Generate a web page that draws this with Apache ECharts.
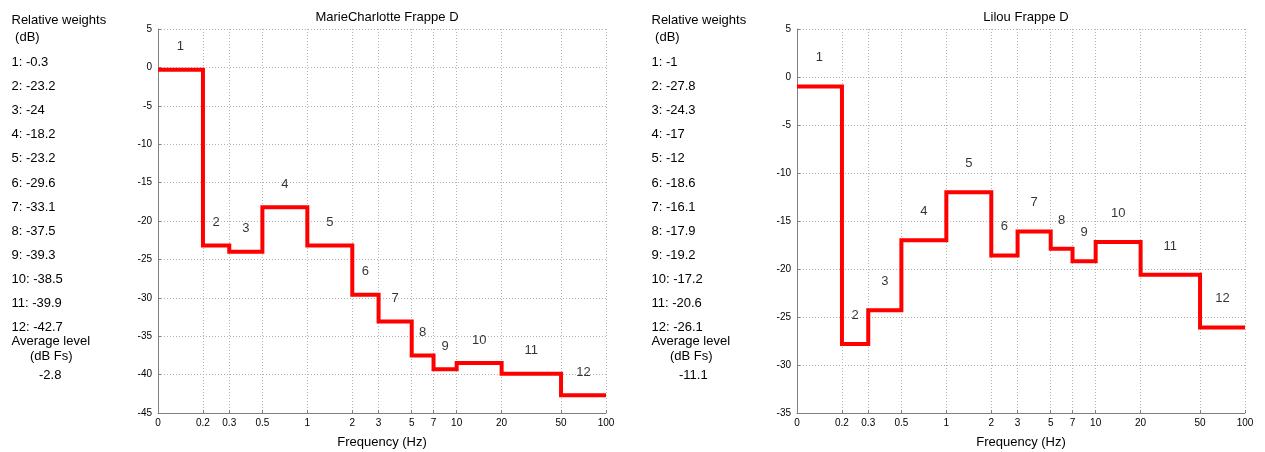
<!DOCTYPE html>
<html>
<head>
<meta charset="utf-8">
<script src="https://cdn.jsdelivr.net/npm/echarts@6/dist/echarts.min.js"></script>
<style>
  html, body { margin: 0; padding: 0; background: #fff; }
  #chart { width: 1265px; height: 452px; }
</style>
</head>
<body>
<div id="chart"></div>
<script>
// Frequency band edges (Hz); band i spans bandEdges[i]..bandEdges[i+1]
const bandEdges = [0.1, 0.2, 0.3, 0.5, 1, 2, 3, 5, 7, 10, 20, 50, 100];
const bandNames = ['1', '2', '3', '4', '5', '6', '7', '8', '9', '10', '11', '12'];

// Frequency axis ticks and their printed labels (lowest edge printed as 0)
const freqTicks = [0.1, 0.2, 0.3, 0.5, 1, 2, 3, 5, 7, 10, 20, 50, 100];
const freqTickLabels = ['0', '0.2', '0.3', '0.5', '1', '2', '3', '5', '7', '10', '20', '50', '100'];

// Panel titles
const titleMarie = 'MarieCharlotte Frappe D';
const titleLilou = 'Lilou Frappe D';

// Relative weights per band (dB)
const weightsMarie = [-0.3, -23.2, -24, -18.2, -23.2, -29.6, -33.1, -37.5, -39.3, -38.5, -39.9, -42.7];
const weightsLilou = [-1, -27.8, -24.3, -17, -12, -18.6, -16.1, -17.9, -19.2, -17.2, -20.6, -26.1];

// Average level (dB Fs)
const avgMarie = -2.8;
const avgLilou = -11.1;

// Level axis ranges (dB)
const levelRangeMarie = [-45, 5];
const levelRangeLilou = [-35, 5];

const FONT = '"Liberation Sans", Arial, Helvetica, sans-serif';

// Step polyline: start of each band at its weight, plus the closing edge
function stepData(weights) {
  const pts = weights.map((w, i) => [bandEdges[i], w]);
  pts.push([bandEdges[bandEdges.length - 1], weights[weights.length - 1]]);
  return pts;
}

// Band number labels, centred (log-wise) in each band, a little above the step
function bandLabelData(weights) {
  return weights.map((w, i) => ({
    value: [Math.sqrt(bandEdges[i] * bandEdges[i + 1]), w + 3],
    name: bandNames[i]
  }));
}

function freqLabel(v) {
  let best = 0;
  freqTicks.forEach((t, i) => {
    if (Math.abs(Math.log(t) - Math.log(v)) < Math.abs(Math.log(freqTicks[best]) - Math.log(v))) best = i;
  });
  return freqTickLabels[best];
}

const gridDefs = [
  { left: 158, top: 29, width: 448, height: 384, outerBoundsMode: 'none', containLabel: false },
  { left: 797, top: 29, width: 448, height: 384, outerBoundsMode: 'none', containLabel: false }
];

function xAxisFor(gridIndex) {
  return {
    type: 'log',
    gridIndex,
    position: 'bottom',
    min: freqTicks[0],
    max: freqTicks[freqTicks.length - 1],
    logBase: 10,
    name: 'Frequency (Hz)',
    nameLocation: 'middle',
    nameGap: 23,
    nameTextStyle: { fontFamily: FONT, fontSize: 13, color: '#000' },
    axisLine: { show: true, onZero: false, lineStyle: { color: '#7f7f7f', width: 1 } },
    axisTick: { show: true, inside: true, length: 3, customValues: freqTicks, lineStyle: { color: '#7f7f7f' } },
    axisLabel: {
      customValues: freqTicks,
      formatter: freqLabel,
      fontFamily: FONT, fontSize: 10, color: '#000', margin: 5
    },
    splitLine: { show: true, lineStyle: { color: '#b4b4b4', type: [1, 2], width: 1 } },
    minorTick: { show: false },
    minorSplitLine: { show: false }
  };
}

function yAxisFor(gridIndex, range) {
  return {
    type: 'value',
    gridIndex,
    position: 'left',
    min: range[0],
    max: range[1],
    interval: 5,
    axisLine: { show: true, onZero: false, lineStyle: { color: '#7f7f7f', width: 1 } },
    axisTick: { show: true, inside: true, length: 3, lineStyle: { color: '#7f7f7f' } },
    axisLabel: { fontFamily: FONT, fontSize: 10, color: '#000', margin: 6 },
    splitLine: { show: true, lineStyle: { color: '#b4b4b4', type: [1, 2], width: 1 } }
  };
}

function stepSeries(idx, weights) {
  return {
    type: 'line',
    xAxisIndex: idx,
    yAxisIndex: idx,
    data: stepData(weights),
    step: 'end',
    symbol: 'none',
    silent: true,
    lineStyle: { color: '#ff0000', width: 4, join: 'miter', cap: 'butt' },
    z: 3
  };
}

function labelSeries(idx, weights) {
  return {
    type: 'scatter',
    xAxisIndex: idx,
    yAxisIndex: idx,
    data: bandLabelData(weights),
    symbolSize: 0,
    silent: true,
    label: {
      show: true,
      position: 'inside',
      formatter: p => p.name,
      fontFamily: FONT, fontSize: 13, color: '#000'
    },
    z: 4
  };
}

// Side column of text listing the weights and the average level
function sideText(x0, weights, avg) {
  const font = '13px ' + FONT;
  const items = [];
  const add = (text, x, y) => items.push({
    type: 'text', x, y, silent: true,
    style: { text, font, fill: '#000', verticalAlign: 'middle', align: 'left' }
  });
  add('Relative weights', x0, 20);
  add(' (dB)', x0, 37);
  weights.forEach((w, i) => add(bandNames[i] + ': ' + w, x0, 62.5 + i * 24.1));
  add('Average level', x0, 341);
  add('(dB Fs)', x0 + 18.5, 356);
  add(String(avg), x0 + 27.5, 375);
  return items;
}

const chart = echarts.init(document.getElementById('chart'), null, { renderer: 'canvas' });
chart.setOption({
  backgroundColor: '#fff',
  animation: false,
  title: [
    { text: titleMarie, left: 382, top: 6, textAlign: 'center',
      textStyle: { fontFamily: FONT, fontSize: 13, fontWeight: 'normal', color: '#000' } },
    { text: titleLilou, left: 1021, top: 6, textAlign: 'center',
      textStyle: { fontFamily: FONT, fontSize: 13, fontWeight: 'normal', color: '#000' } }
  ],
  grid: gridDefs,
  xAxis: [xAxisFor(0), xAxisFor(1)],
  yAxis: [yAxisFor(0, levelRangeMarie), yAxisFor(1, levelRangeLilou)],
  series: [
    stepSeries(0, weightsMarie),
    labelSeries(0, weightsMarie),
    stepSeries(1, weightsLilou),
    labelSeries(1, weightsLilou)
  ],
  graphic: [
    ...sideText(11.5, weightsMarie, avgMarie),
    ...sideText(651.5, weightsLilou, avgLilou)
  ]
});
</script>
</body>
</html>
